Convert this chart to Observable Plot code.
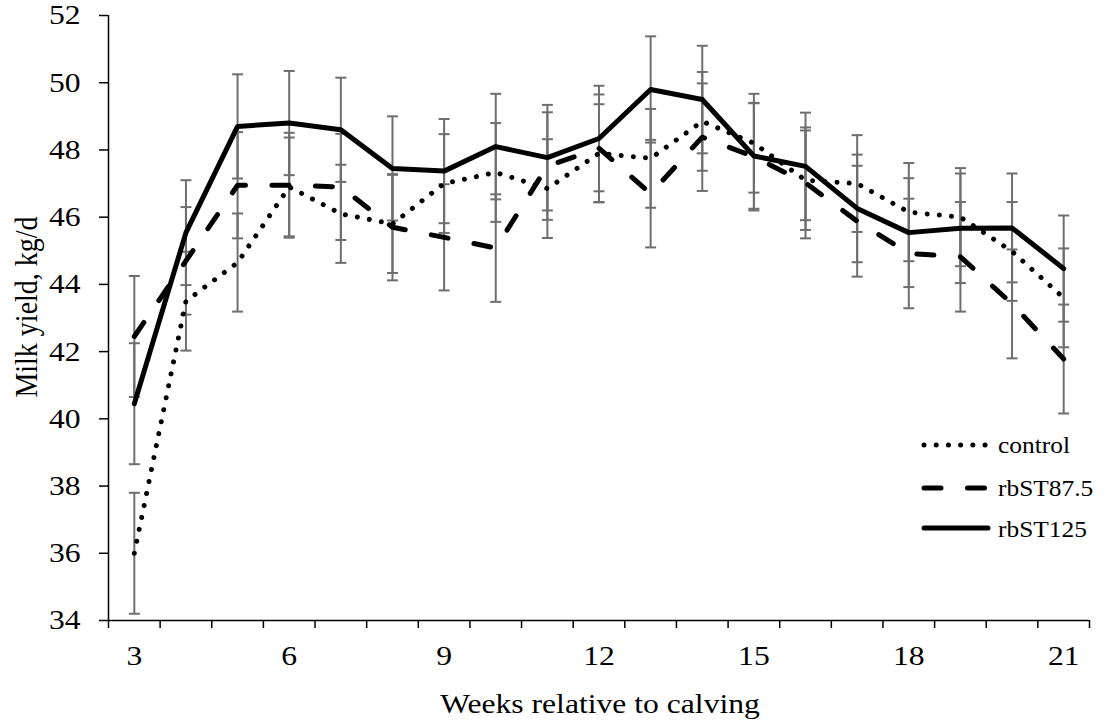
<!DOCTYPE html>
<html>
<head>
<meta charset="utf-8">
<script src="https://cdn.jsdelivr.net/npm/d3@7"></script>
<script src="https://cdn.jsdelivr.net/npm/@observablehq/plot@0.6"></script>
<style>
  html, body { margin: 0; padding: 0; background: #fff; }
  #chart { width: 1107px; height: 723px; }
</style>
</head>
<body>
<div id="chart"></div>
<script>
// ---------- data ----------
const weeks = [3, 4, 5, 6, 7, 8, 9, 10, 11, 12, 13, 14, 15, 16, 17, 18, 19, 20, 21];
const seriesNames = ["control", "rbST87.5", "rbST125"];

const control  = [36.0, 43.5, 44.65, 46.9, 46.1, 45.8, 47.0, 47.33, 46.85, 47.9, 47.75, 48.85, 48.2, 47.1, 47.0, 46.15, 46.0, 44.98, 43.6];
const rbST875  = [42.45, 44.7, 46.95, 46.95, 46.9, 45.7, 45.4, 45.08, 47.52, 48.05, 46.7, 48.38, 47.8, 47.02, 45.88, 44.92, 44.82, 43.42, 41.78];
const rbST125  = [40.45, 45.54, 48.7, 48.8, 48.6, 47.45, 47.37, 48.1, 47.77, 48.34, 49.8, 49.5, 47.82, 47.51, 46.26, 45.54, 45.67, 45.68, 44.47];

const seControl = [1.8, 1.47, 1.46, 1.47, 1.46, 1.46, 1.47, 1.47, 1.47, 1.46, 1.47, 1.47, 1.47, 1.48, 1.44, 1.46, 1.46, 1.47, 1.47];
const se875     = [1.8, 1.6, 1.58, 1.56, 1.58, 1.58, 1.58, 1.6, 1.6, 1.6, 1.6, 1.6, 1.6, 1.65, 1.65, 1.63, 1.63, 1.62, 1.62];
const se125     = [1.8, 1.56, 1.55, 1.55, 1.55, 1.55, 1.55, 1.57, 1.57, 1.57, 1.58, 1.6, 1.57, 1.6, 1.6, 1.62, 1.63, 1.62, 1.58];

const xTickLabels = [3, 6, 9, 12, 15, 18, 21];
const yTicks = [34, 36, 38, 40, 42, 44, 46, 48, 50, 52];
const xDomain = [2.5, 21.5];
const yDomain = [34, 52];
const xTitle = "Weeks relative to calving";
const yTitle = "Milk yield, kg/d";

// ---------- build table ----------
const valuesBySeries = [control, rbST875, rbST125];
const seBySeries = [seControl, se875, se125];
const rows = seriesNames.flatMap((s, i) =>
  weeks.map((w, j) => ({ series: s, week: w, value: valuesBySeries[i][j], se: seBySeries[i][j] }))
);
const boundaries = d3.range(xDomain[0], xDomain[1] + 0.001, 1);

// ---------- styles ----------
const FONT = "'Liberation Serif', 'Times New Roman', serif";
const ERR = "#6e6e6e";
const lineStyles = {
  "control":  { dash: "0.01 12.2", width: 5 },
  "rbST87.5": { dash: "17 26.5", width: 5 },
  "rbST125":  { dash: null, width: 5 }
};
const capSymbol = {
  draw(ctx, size) {
    const r = Math.sqrt(size / Math.PI);
    ctx.moveTo(-r, 0);
    ctx.lineTo(r, 0);
  }
};

const lineMarks = seriesNames.map(s => Plot.line(rows.filter(d => d.series === s), {
  x: "week", y: "value", stroke: "black",
  strokeWidth: lineStyles[s].width,
  strokeDasharray: lineStyles[s].dash,
  strokeLinecap: "round", strokeLinejoin: "round"
}));

const svg = Plot.plot({
  width: 1107,
  height: 723,
  marginLeft: 108,
  marginRight: 18,
  marginTop: 15,
  marginBottom: 103,
  style: { fontFamily: FONT, fontSize: "28px", background: "white", color: "black", overflow: "visible" },
  x: { type: "linear", domain: xDomain },
  y: { type: "linear", domain: yDomain },
  marks: [
    // error bars
    Plot.ruleX(rows, { x: "week", y1: d => d.value - d.se, y2: d => d.value + d.se, stroke: ERR, strokeWidth: 2 }),
    Plot.dot(rows, { x: "week", y: d => d.value + d.se, symbol: capSymbol, r: 5.5, stroke: ERR, strokeWidth: 2, fill: "none" }),
    Plot.dot(rows, { x: "week", y: d => d.value - d.se, symbol: capSymbol, r: 5.5, stroke: ERR, strokeWidth: 2, fill: "none" }),
    // series lines
    ...lineMarks,
    // axes
    Plot.axisY(yTicks, { tickSize: 9, tickPadding: 19, label: null, strokeWidth: 1.5 }),
    Plot.axisX(boundaries, { tickSize: 8, tickFormat: () => "", label: null, strokeWidth: 1.5 }),
    Plot.axisX(xTickLabels, { tickSize: 0, tickPadding: 25, label: null }),
    Plot.ruleX([xDomain[0]], { stroke: "black", strokeWidth: 1.5 }),
    Plot.ruleY([yDomain[0]], { stroke: "black", strokeWidth: 1.5 })
  ]
});

const STRETCH = 1.13;

// stretch Plot's own axis labels horizontally (their y offset is an em attribute, kept as is)
d3.select(svg).selectAll("text").each(function () {
  const t = d3.select(this);
  const tr = t.attr("transform") || "";
  t.attr("transform", `${tr} scale(${STRETCH},1)`);
});

const root = d3.select(svg);

// axis titles
root.append("text")
  .attr("text-anchor", "middle")
  .attr("transform", `translate(600,713) scale(${STRETCH},1)`)
  .attr("fill", "black")
  .style("font-size", "28px")
  .text(xTitle);

root.append("text")
  .attr("text-anchor", "middle")
  .attr("transform", `translate(37,307) rotate(-90) scale(1,${STRETCH})`)
  .attr("fill", "black")
  .style("font-size", "28px")
  .text(yTitle);

// legend
const legendRows = [
  { name: "control", y: 445, base: 453 },
  { name: "rbST87.5", y: 488, base: 496 },
  { name: "rbST125", y: 528, base: 537 }
];
const lg = root.append("g");
legendRows.forEach(r => {
  const st = lineStyles[r.name];
  lg.append("line")
    .attr("x1", 924).attr("x2", 988)
    .attr("y1", r.y).attr("y2", r.y)
    .attr("stroke", "black").attr("stroke-width", st.width)
    .attr("stroke-linecap", "round")
    .attr("stroke-dasharray", st.dash);
  lg.append("text")
    .attr("text-anchor", "start")
    .attr("transform", `translate(998,${r.base}) scale(${STRETCH},1)`)
    .attr("fill", "black")
    .style("font-size", "22.5px")
    .text(r.name);
});

document.getElementById("chart").appendChild(svg);
</script>
</body>
</html>
